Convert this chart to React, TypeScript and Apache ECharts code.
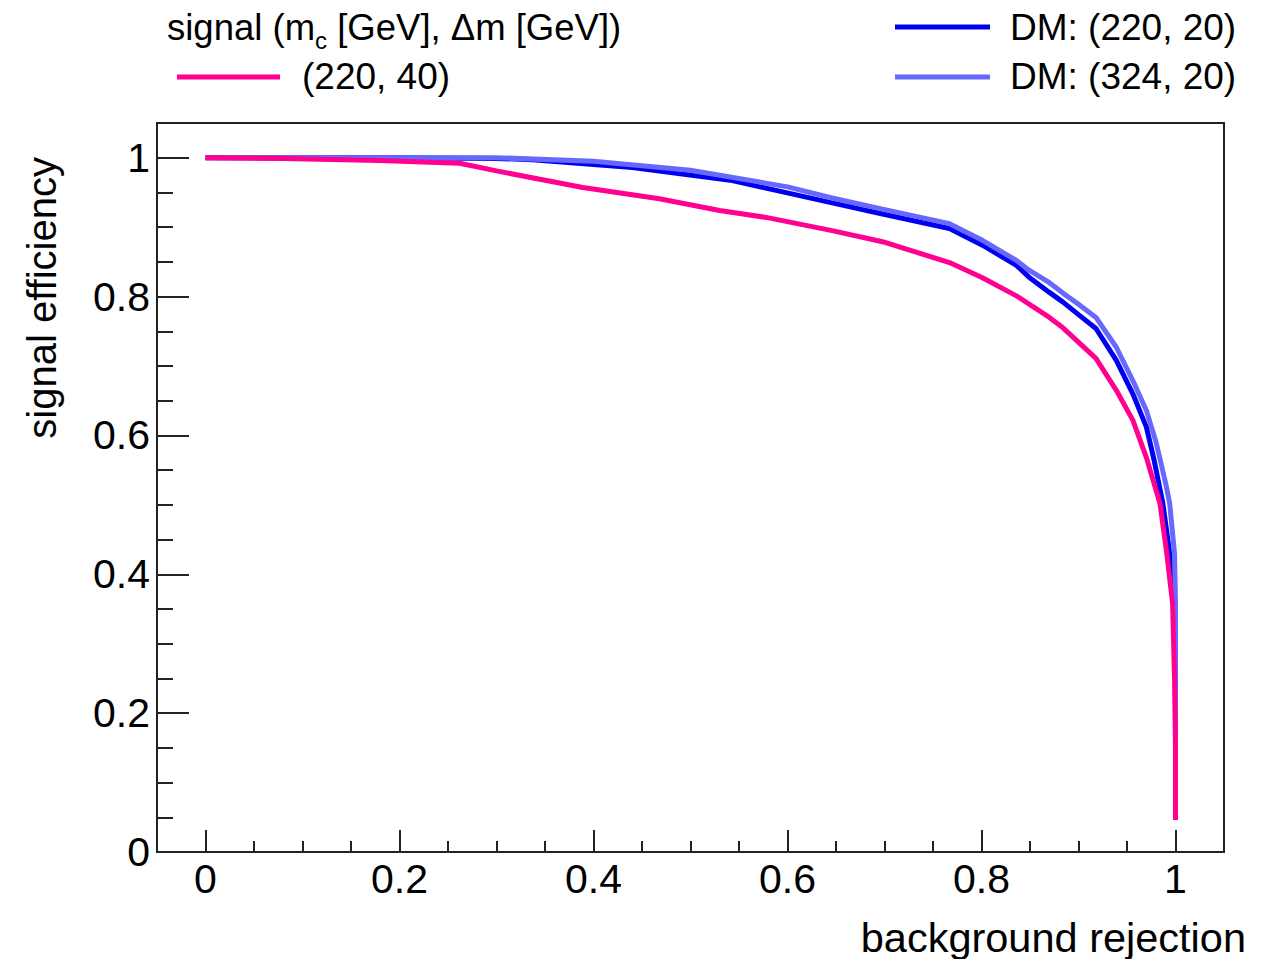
import React, { useEffect, useRef } from "react";
import * as echarts from "echarts";

// ROC curves: background rejection (x) vs signal efficiency (y)
const SIGNAL_220_40: [number, number][] = [
  [0, 1.0], [0.08, 0.999], [0.179, 0.996], [0.262, 0.992], [0.3, 0.981],
  [0.389, 0.957], [0.468, 0.941], [0.53, 0.924], [0.578, 0.914], [0.646, 0.895],
  [0.698, 0.879], [0.767, 0.849], [0.801, 0.827], [0.836, 0.801], [0.87, 0.77],
  [0.884, 0.755], [0.918, 0.711], [0.939, 0.665], [0.956, 0.622], [0.97, 0.568],
  [0.984, 0.502], [0.991, 0.43], [0.997, 0.358], [0.999, 0.25], [1.0, 0.15], [1.0, 0.046],
];

const DM_220_20: [number, number][] = [
  [0, 1.0], [0.2, 1.0], [0.3, 0.999], [0.337, 0.997], [0.44, 0.986], [0.543, 0.967],
  [0.646, 0.935], [0.698, 0.919], [0.767, 0.898], [0.801, 0.874], [0.836, 0.845],
  [0.849, 0.828], [0.87, 0.806], [0.884, 0.792], [0.9, 0.774], [0.918, 0.754], [0.939, 0.708],
  [0.956, 0.66], [0.97, 0.612], [0.978, 0.564], [0.987, 0.502], [0.994, 0.43],
  [0.999, 0.358], [1.0, 0.25], [1.0, 0.046],
];

const DM_324_20: [number, number][] = [
  [0, 1.0], [0.2, 1.0], [0.3, 1.0], [0.4, 0.995], [0.5, 0.982], [0.6, 0.958],
  [0.646, 0.942], [0.698, 0.926], [0.767, 0.905], [0.801, 0.881], [0.836, 0.852],
  [0.849, 0.838], [0.87, 0.82], [0.884, 0.805], [0.9, 0.789], [0.918, 0.77], [0.939, 0.727],
  [0.956, 0.679], [0.97, 0.636], [0.98, 0.59], [0.99, 0.53], [0.994, 0.502],
  [0.999, 0.43], [1.0, 0.358], [1.0, 0.046],
];

const X_TICKS = [0, 0.2, 0.4, 0.6, 0.8, 1];
const Y_TICKS = [0, 0.2, 0.4, 0.6, 0.8, 1];
const X_MINOR = [0.05, 0.1, 0.15, 0.25, 0.3, 0.35, 0.45, 0.5, 0.55, 0.65, 0.7, 0.75, 0.85, 0.9, 0.95];
const Y_MINOR = [0.05, 0.1, 0.15, 0.25, 0.3, 0.35, 0.45, 0.5, 0.55, 0.65, 0.7, 0.75, 0.85, 0.9, 0.95];

const X_TITLE = "background rejection";
const Y_TITLE = "signal efficiency";
const LEGEND_HEADER = "signal (m{sub|c} [GeV], Δm [GeV])";
const NAME_SIGNAL = "(220, 40)";
const NAME_DM_220 = "DM: (220, 20)";
const NAME_DM_324 = "DM: (324, 20)";

const COLOR_SIGNAL = "#ff0090";
const COLOR_DM_220 = "#0000f0";
const COLOR_DM_324 = "#6868ff";

const FONT = "Liberation Sans, Arial, Helvetica, sans-serif";
const AXIS_COLOR = "#222";

const fmt = (v: number) => String(+Number(v).toFixed(2));

export default function App() {
  const ref = useRef<HTMLDivElement>(null);

  useEffect(() => {
    if (!ref.current) return;
    const chart = echarts.init(ref.current, undefined, { renderer: "svg" });

    const xBase = {
      type: "value" as const,
      min: -0.05,
      max: 1.05,
      gridIndex: 0,
      position: "bottom" as const,
      splitLine: { show: false },
    };
    const yBase = {
      type: "value" as const,
      min: 0,
      max: 1.05,
      gridIndex: 0,
      position: "left" as const,
      splitLine: { show: false },
    };

    const line = (name: string, data: [number, number][], color: string) => ({
      name,
      type: "line" as const,
      data,
      showSymbol: false,
      symbol: "none",
      lineStyle: { color, width: 5 },
      itemStyle: { color },
      xAxisIndex: 0,
      yAxisIndex: 0,
    });

    const legendText = (text: string, x: number, y: number) => ({
      type: "text",
      x,
      y,
      style: { text, fontSize: 37, fontFamily: FONT, fill: "#000", align: "left", verticalAlign: "middle" },
    });

    chart.setOption({
      animation: false,
      backgroundColor: "#fff",
      grid: {
        left: 157,
        top: 123,
        width: 1067,
        height: 729,
        show: true,
        borderColor: AXIS_COLOR,
        borderWidth: 2,
        backgroundColor: "transparent",
      },
      xAxis: [
        {
          ...xBase,
          axisLine: { show: true, onZero: false, lineStyle: { color: AXIS_COLOR, width: 2 } },
          axisTick: { show: true, inside: true, length: 22, customValues: X_TICKS, lineStyle: { color: AXIS_COLOR, width: 2 } },
          axisLabel: { show: true, customValues: X_TICKS, margin: 6, fontSize: 41, color: "#000", fontFamily: FONT, formatter: fmt },
        },
        {
          ...xBase,
          axisLine: { show: false, onZero: false },
          axisTick: { show: true, inside: true, length: 11, customValues: X_MINOR, lineStyle: { color: AXIS_COLOR, width: 2 } },
          axisLabel: { show: false },
        },
      ],
      yAxis: [
        {
          ...yBase,
          axisLine: { show: true, onZero: false, lineStyle: { color: AXIS_COLOR, width: 2 } },
          axisTick: { show: true, inside: true, length: 32, customValues: Y_TICKS, lineStyle: { color: AXIS_COLOR, width: 2 } },
          axisLabel: { show: true, customValues: Y_TICKS, margin: 7, fontSize: 41, color: "#000", fontFamily: FONT, formatter: fmt },
        },
        {
          ...yBase,
          axisLine: { show: false, onZero: false },
          axisTick: { show: true, inside: true, length: 16, customValues: Y_MINOR, lineStyle: { color: AXIS_COLOR, width: 2 } },
          axisLabel: { show: false },
        },
      ],
      series: [
        line(NAME_DM_220, DM_220_20, COLOR_DM_220),
        line(NAME_DM_324, DM_324_20, COLOR_DM_324),
        line(NAME_SIGNAL, SIGNAL_220_40, COLOR_SIGNAL),
      ],
      graphic: [
        // axis titles
        {
          type: "text",
          x: 1246,
          y: 937,
          style: {
            text: X_TITLE, fontSize: 41.5, lineHeight: 40, fontFamily: FONT, fill: "#000",
            align: "right", verticalAlign: "middle",
          },
        },
        {
          type: "text",
          x: 42,
          y: 157,
          rotation: Math.PI / 2,
          style: { text: Y_TITLE, fontSize: 40, fontFamily: FONT, fill: "#000", align: "right", verticalAlign: "middle" },
        },
        // legend
        {
          type: "text",
          x: 167,
          y: 27,
          style: {
            text: LEGEND_HEADER,
            fontSize: 36.5,
            fontFamily: FONT,
            fill: "#000",
            align: "left",
            verticalAlign: "middle",
            lineHeight: 50,
            rich: {
              sub: { fontSize: 24, lineHeight: 16, fontFamily: FONT, fill: "#000", verticalAlign: "bottom" },
            },
          },
        },
        { type: "line", shape: { x1: 177, y1: 77, x2: 280, y2: 77 }, style: { stroke: COLOR_SIGNAL, lineWidth: 5 } },
        legendText(NAME_SIGNAL, 302, 76),
        { type: "line", shape: { x1: 895, y1: 27, x2: 990, y2: 27 }, style: { stroke: COLOR_DM_220, lineWidth: 5 } },
        legendText(NAME_DM_220, 1010, 27),
        { type: "line", shape: { x1: 895, y1: 77, x2: 990, y2: 77 }, style: { stroke: COLOR_DM_324, lineWidth: 5 } },
        legendText(NAME_DM_324, 1010, 76),
      ],
    });

    return () => chart.dispose();
  }, []);

  return (
    <div
      ref={ref}
      style={{ position: "absolute", left: 0, top: 0, width: 1269, height: 959, background: "#fff" }}
    />
  );
}
